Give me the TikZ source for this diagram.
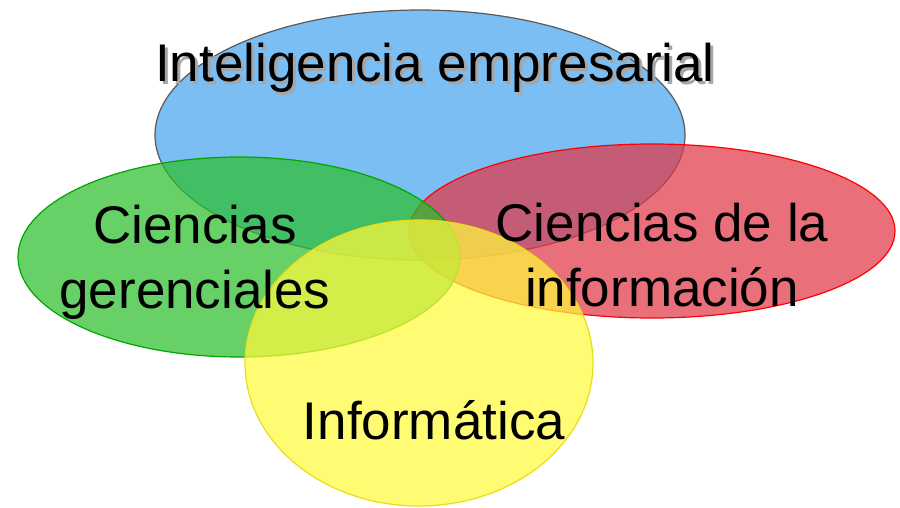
\documentclass[tikz,border=0pt]{standalone}
\usepackage{fontspec}
\setmainfont{Liberation Sans}
\newcommand{\shadowtext}[1]{\rlap{\hspace{3pt}\raisebox{-3pt}{\textcolor{black!35}{#1}}}#1}
\begin{document}
\begin{tikzpicture}[x=1pt,y=-1pt,
  blob/.style={fill opacity=0.72, draw opacity=1, line width=1.2pt},
  lbl/.style={font=\fontsize{53}{65}\selectfont, align=center, text=black, inner sep=0pt}]
\useasboundingbox (0,0) rectangle (900,507);
\definecolor{cblue}{RGB}{70,165,240}
\definecolor{cred}{RGB}{225,55,70}
\definecolor{cgreen}{RGB}{45,190,45}
\definecolor{cyellow}{RGB}{255,250,60}
\path[blob, fill=cblue, draw=black!65] (420,135) ellipse [x radius=265, y radius=125];
\path[blob, fill=cred, draw=red] (652,231) ellipse [x radius=243, y radius=87];
\path[blob, fill=cgreen, draw=green!65!black] (239,257) ellipse [x radius=221, y radius=100];
\path[blob, fill=cyellow, draw=yellow!90!black] (419,363) ellipse [x radius=174, y radius=143];
\node[lbl] (ie) at (435,69) {\shadowtext{Inteligencia empresarial}};
\node[lbl] (cg) at (195,262) {Ciencias\\gerenciales};
\node[lbl] (ci) at (662,255) {Ciencias de la\\información};
\node[lbl] (inf) at (434,420) {Informática};
\end{tikzpicture}
\end{document}
